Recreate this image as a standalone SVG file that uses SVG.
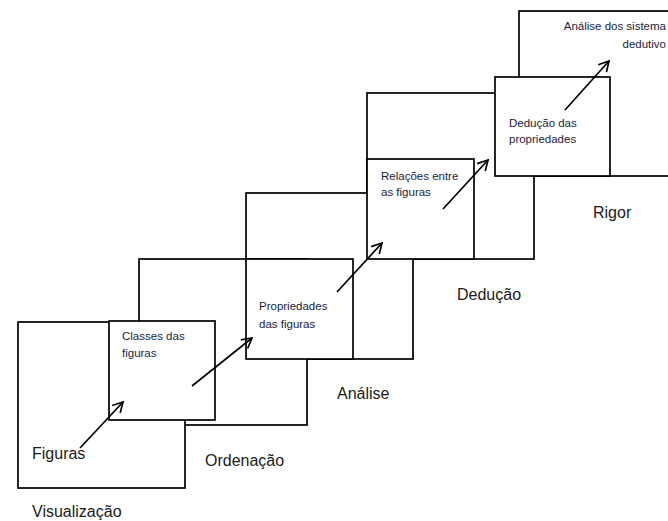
<svg xmlns="http://www.w3.org/2000/svg" width="668" height="521" viewBox="0 0 668 521">
<style>
.box{fill:#fff;stroke:#000;stroke-width:1.7}
.lbl{font-family:"Liberation Sans",Arial,sans-serif;font-size:16px;fill:#1a1a1a}
.sm{font-family:"Liberation Sans",Arial,sans-serif;font-size:11.5px;fill:#1c1c3a}
.arr{stroke:#000;stroke-width:1.7;fill:none;marker-end:url(#ah)}
</style>
<defs>
<marker id="ah" markerUnits="userSpaceOnUse" markerWidth="14" markerHeight="14" viewBox="-12 -7 14 14" refX="0" refY="0" orient="auto">
<path d="M-10,-5.5 L0,0 L-10,5.5" fill="none" stroke="#000" stroke-width="1.7"/>
</marker>
</defs>
<rect width="668" height="521" fill="#fff"/>
<g id="rigor">
<rect class="box" x="519" y="11" width="167" height="165"/>
<text class="lbl" x="593" y="218">Rigor</text>
</g>
<g id="deducao">
<rect class="box" x="367" y="93" width="167" height="166"/>
<text class="lbl" x="457" y="300">Dedução</text>
</g>
<g id="analise">
<rect class="box" x="246" y="193" width="167" height="166"/>
<text class="lbl" x="337" y="399">Análise</text>
</g>
<g id="ordenacao">
<rect class="box" x="139" y="259" width="168" height="166"/>
<text class="lbl" x="205" y="466">Ordenação</text>
</g>
<g id="visualizacao">
<rect class="box" x="18" y="322" width="167" height="166"/>
<text class="lbl" x="32" y="459">Figuras</text>
<text class="lbl" x="32" y="517">Visualização</text>
</g>
<g id="classes">
<rect class="box" x="109" y="321" width="106" height="99"/>
<text class="sm" x="122" y="340">Classes das</text>
<text class="sm" x="122" y="357">figuras</text>
</g>
<g id="propriedades">
<rect class="box" x="246" y="259" width="107" height="100"/>
<text class="sm" x="259" y="310">Propriedades</text>
<text class="sm" x="259" y="328">das figuras</text>
</g>
<g id="relacoes">
<rect class="box" x="367" y="159" width="107" height="100"/>
<text class="sm" x="381" y="180">Relações entre</text>
<text class="sm" x="381" y="196">as figuras</text>
</g>
<g id="deducao-propriedades">
<rect class="box" x="495" y="77" width="115" height="99"/>
<text class="sm" x="509" y="127">Dedução das</text>
<text class="sm" x="509" y="143">propriedades</text>
</g>
<g id="sistemas-dedutivos">
<text class="sm" x="666" y="30" font-size="12" text-anchor="end">Análise dos sistema</text>
<text class="sm" x="666" y="48" font-size="12" text-anchor="end">dedutivo</text>
</g>
<g id="connectors">
<line class="arr" x1="80" y1="448" x2="123" y2="402"/>
<line class="arr" x1="192" y1="386" x2="252" y2="338"/>
<line class="arr" x1="337" y1="292" x2="382" y2="243"/>
<line class="arr" x1="443" y1="209" x2="488" y2="160"/>
<line class="arr" x1="565" y1="110" x2="609" y2="61"/>
</g>
</svg>
